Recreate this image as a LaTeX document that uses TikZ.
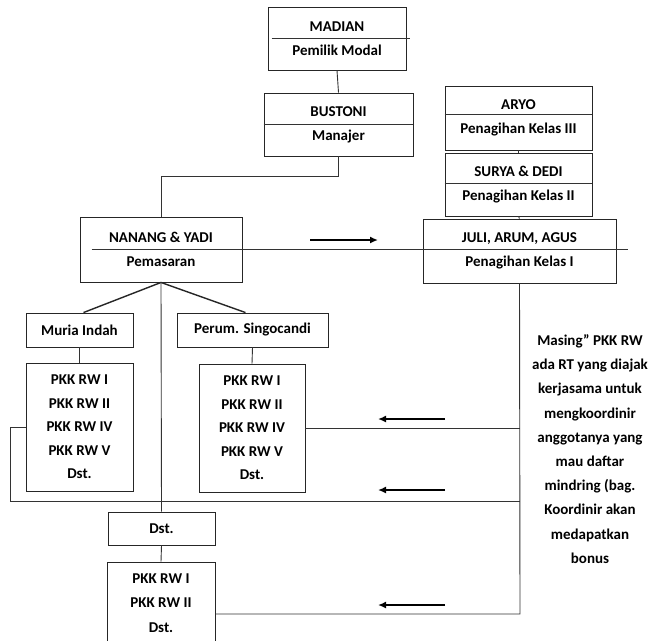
\documentclass[tikz,border=0pt]{standalone}
\usepackage{fontspec}
\setmainfont{Carlito}
\usetikzlibrary{positioning,arrows.meta}

\begin{document}
\begin{tikzpicture}[x=1pt, y=-1pt, >=Latex,
  every node/.style={font=\fontsize{15}{24}\selectfont\bfseries},
  box/.style={draw=black!85, line width=0.9pt, fill=white, align=center, inner sep=0pt},
  conn/.style={draw=black!80, line width=0.9pt},
  fork/.style={draw=black!85, line width=1.4pt},
  arr/.style={->, line width=1.6pt, -{Latex[length=8pt,width=7pt]}}]
  \clip (0,0) rectangle (652,640);
  \fill[white] (0,0) rectangle (652,640);

  % top of the chart
  \node[box, minimum width=138pt, minimum height=63pt] (madian) at (337,38.5) {MADIAN\\Pemilik Modal};
  \node[box, minimum width=149pt, minimum height=63pt] (bustoni) at (338.5,124.5) {BUSTONI\\Manajer};
  \node[box, minimum width=162pt, minimum height=65pt] (nanang) at (161,249.5) {NANANG \& YADI\\Pemasaran};

  % collectors on the right
  \node[box, minimum width=147pt, minimum height=64pt] (aryo) at (518.5,118) {ARYO\\Penagihan Kelas III};
  \node[box, minimum width=147pt, minimum height=63pt] (surya) at (518.5,184.5) {SURYA \& DEDI\\Penagihan Kelas II};
  \node[box, minimum width=193pt, minimum height=64pt] (juli) at (519.5,251) {JULI, ARUM, AGUS\\Penagihan Kelas I};

  % areas
  \node[box, minimum width=107pt, minimum height=34pt] (muria) at (79.5,330) {Muria Indah};
  \node[box, minimum width=151pt, minimum height=34pt] (singo) at (252.5,330) {Perum. Singocandi};
  \node[box, minimum width=107pt, minimum height=128pt, font=\fontsize{15}{23.5}\selectfont\bfseries] (muriarw) at (79.5,427) {PKK RW I\\PKK RW II\\PKK RW IV\\PKK RW V\\Dst.};
  \node[box, minimum width=106pt, minimum height=128pt, font=\fontsize{15}{23.5}\selectfont\bfseries] (singorw) at (252,428) {PKK RW I\\PKK RW II\\PKK RW IV\\PKK RW V\\Dst.};
  \node[box, minimum width=107pt, minimum height=33pt] (dst) at (161.5,528.5) {Dst.};
  \node[box, minimum width=108pt, minimum height=82pt, font=\fontsize{15}{24.5}\selectfont\bfseries] (bottomrw) at (161,603) {PKK RW I\\PKK RW II\\Dst.};

  \node[align=center, font=\fontsize{15}{24.2}\selectfont\bfseries] (note) at (590,449) {Masing” PKK RW\\ada RT yang diajak\\kerjasama untuk\\mengkoordinir\\anggotanya yang\\mau daftar\\mindring (bag.\\Koordinir akan\\medapatkan\\bonus};

  % dividers
  \draw[conn] ([xshift=4pt]madian.west) -- ([xshift=4pt]madian.east);
  \draw[conn] (bustoni.west) -- (bustoni.east);
  \draw[conn] ([yshift=4pt]aryo.west) -- ([yshift=4pt]aryo.east);
  \draw[conn] ([yshift=1.5pt]surya.west) -- ([yshift=1.5pt]surya.east);
  \draw[conn] ([xshift=12pt]nanang.west) -- ([xshift=12pt]nanang.west -| juli.east);

  % lines
  \draw[conn] (madian.south) -- (bustoni.north);
  \draw[conn] (bustoni.south) -- ++(0,20) -| (nanang.north);
  \draw[conn] (aryo.south) -- (surya.north);
  \draw[conn] (surya.south) -- (juli.north);
  \draw[fork] (nanang.south) -- ([xshift=4pt]muria.north);
  \draw[fork] (nanang.south) -- ([xshift=-7pt]singo.north);
  \draw[conn] (nanang.south) -- (dst.north);
  \draw[conn] (dst.south) -- (bottomrw.north);
  \draw[conn] (muria.south) -- (muriarw.north);
  \draw[conn] (singo.south) -- (singorw.north);

  \coordinate (rbot) at (520,614);
  \coordinate (lbot) at (10,501);
  \draw[conn] (juli.south) -- (rbot) -- (rbot -| bottomrw.east);
  \draw[conn] (singorw.east) -- (singorw.east -| rbot);
  \draw[conn] (muriarw.west) -| (lbot) -- (lbot -| rbot);

  % arrows
  \draw[arr] (310,240) -- (378,240);
  \draw[arr] (445,419) -- (378,419);
  \draw[arr] (445,490) -- (378,490);
  \draw[arr] (445,605) -- (378,605);
\end{tikzpicture}
\end{document}
